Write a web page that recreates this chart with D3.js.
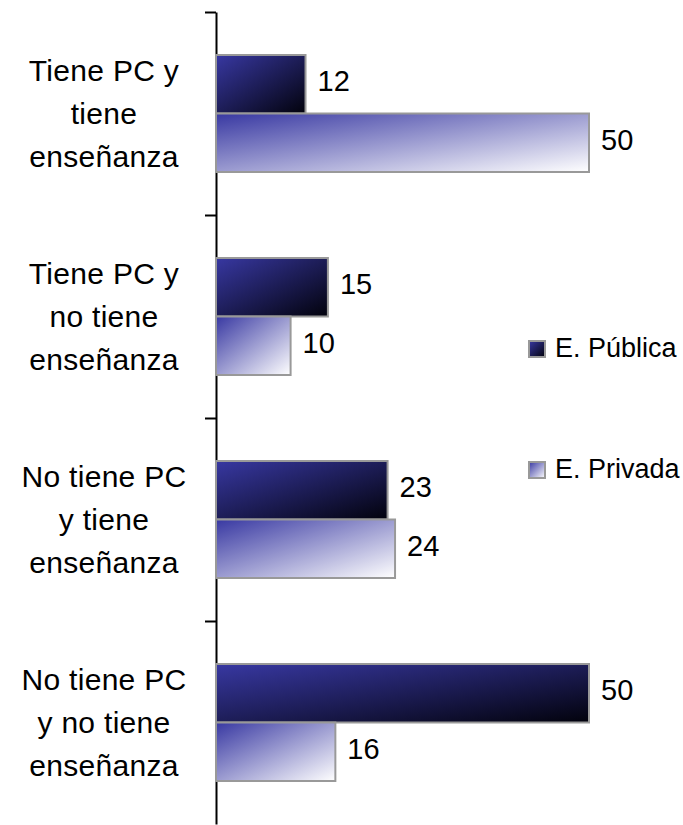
<!DOCTYPE html>
<html>
<head>
<meta charset="utf-8">
<script src="https://cdn.jsdelivr.net/npm/d3@7"></script>
<style>
  body { margin: 0; background: #fff; }
  text { font-family: "Liberation Sans", Arial, sans-serif; fill: #000; }
</style>
</head>
<body>
<div id="chart"></div>
<script>
// data
const categories = [
  "Tiene PC y tiene enseñanza",
  "Tiene PC y no tiene enseñanza",
  "No tiene PC y tiene enseñanza",
  "No tiene PC y no tiene enseñanza"
]
const catLines = [
  ["Tiene PC y", "tiene", "enseñanza"],
  ["Tiene PC y", "no tiene", "enseñanza"],
  ["No tiene PC", "y tiene", "enseñanza"],
  ["No tiene PC", "y no tiene", "enseñanza"]
]
const series = ["E. Pública", "E. Privada"]
const publica = [12, 15, 23, 50]
const privada = [50, 10, 24, 16]

const W = 683, H = 825

const svg = d3.select("#chart")
  .append("svg")
  .attr("width", W)
  .attr("height", H)

// gradients (one per series)
const defs = svg.append("defs")
const gradStops = [
  [["0%", "#3838a2"], ["100%", "#02020c"]],
  [["0%", "#3838a2"], ["100%", "#ffffff"]]
]
gradStops.forEach((st, i) => {
  const g = defs.append("linearGradient")
    .attr("id", "grad" + i)
    .attr("x1", 0).attr("y1", 0)
    .attr("x2", 1).attr("y2", 1)
  st.forEach(s => g.append("stop").attr("offset", s[0]).attr("stop-color", s[1]))
})

const x = d3.scaleLinear().domain([0, 50]).range([216, 589])

const y = d3.scaleBand()
  .domain(categories)
  .range([12, 824])
  .padding(0)

const ySub = d3.scaleBand()
  .domain(series)
  .range([0, y.bandwidth()])
  .paddingInner(0)
  .paddingOuter(0.735)

// axis: ticks on band boundaries
const yEdge = d3.scaleLinear().domain([0, categories.length]).range(y.range())
svg.append("g")
  .attr("transform", "translate(216,0)")
  .call(d3.axisLeft(yEdge)
    .tickValues(d3.range(categories.length))
    .tickSize(11)
    .tickSizeOuter(0)
    .tickFormat(""))
  .call(g => g.selectAll("path, line").attr("stroke", "#000").attr("stroke-width", 2))

// bars
const rows = categories.map((c, i) => ({cat: c, vals: [publica[i], privada[i]]}))

const grp = svg.append("g")
  .selectAll("g")
  .data(rows)
  .join("g")
  .attr("transform", d => "translate(0," + y(d.cat) + ")")

grp.selectAll("rect")
  .data(d => d.vals.map((v, k) => ({s: series[k], k: k, v: v})))
  .join("rect")
  .attr("x", x(0))
  .attr("y", d => ySub(d.s))
  .attr("width", d => x(d.v) - x(0))
  .attr("height", ySub.bandwidth())
  .attr("fill", d => "url(#grad" + d.k + ")")
  .attr("stroke", "#999")
  .attr("stroke-width", 2)

grp.selectAll("text.val")
  .data(d => d.vals.map((v, k) => ({s: series[k], v: v})))
  .join("text")
  .attr("class", "val")
  .attr("x", d => x(d.v) + 12)
  .attr("y", d => ySub(d.s) + ySub.bandwidth() / 2 + 7)
  .style("font-size", "29px")
  .text(d => d.v)

// category labels
svg.append("g")
  .selectAll("text")
  .data(categories)
  .join("text")
  .attr("text-anchor", "middle")
  .style("font-size", "30px")
  .style("letter-spacing", "0.3px")
  .each(function(c, i) {
    const cy = y(c) + y.bandwidth() / 2
    d3.select(this).selectAll("tspan")
      .data(catLines[i])
      .join("tspan")
      .attr("x", 104)
      .attr("y", (l, j) => cy - 33 + j * 43)
      .text(l => l)
  })

// legend
const leg = svg.append("g")
  .selectAll("g")
  .data(series)
  .join("g")
  .attr("transform", (d, i) => "translate(529," + (341 + i * 121) + ")")

leg.append("rect")
  .attr("width", 16).attr("height", 16)
  .attr("fill", (d, i) => "url(#grad" + i + ")")
  .attr("stroke", "#999")
  .attr("stroke-width", 2)

leg.append("text")
  .attr("x", 26)
  .attr("y", 16)
  .style("font-size", "27px")
  .text(d => d)
</script>
</body>
</html>
